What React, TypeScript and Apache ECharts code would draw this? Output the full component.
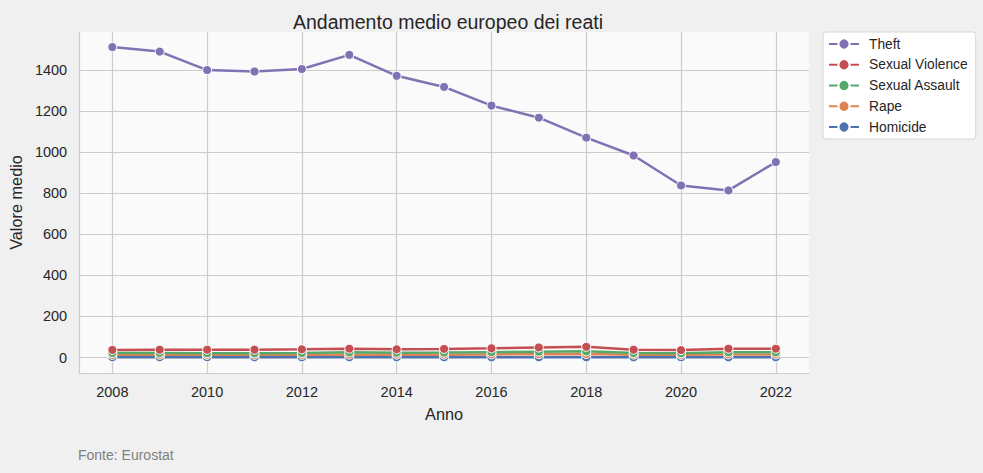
import React, { useEffect, useRef } from "react";
import * as echarts from "echarts";

const years = [2008, 2009, 2010, 2011, 2012, 2013, 2014, 2015, 2016, 2017, 2018, 2019, 2020, 2021, 2022];
const theft = [1512, 1490, 1400, 1393, 1405, 1474, 1372, 1318, 1227, 1168, 1071, 984, 838, 814, 952];
const sexualViolence = [37, 38, 38, 38, 40, 43, 40, 42, 45, 49, 52, 38, 36, 43, 43];
const sexualAssault = [22, 22, 21, 21, 22, 25, 23, 24, 26, 28, 30, 22, 21, 25, 25];
const rape = [13, 13, 13, 13, 13, 14, 14, 14, 15, 16, 17, 14, 13, 15, 15];
const homicide = [1.5, 1.5, 1.4, 1.4, 1.3, 1.3, 1.3, 1.2, 1.2, 1.2, 1.1, 1.1, 1.1, 1.1, 1.1];
const xTicks = [2008, 2010, 2012, 2014, 2016, 2018, 2020, 2022];
const yTicks = [0, 200, 400, 600, 800, 1000, 1200, 1400];

const FONT = "Liberation Sans, Arial, sans-serif";

export default function App() {
  const ref = useRef<HTMLDivElement>(null);
  useEffect(() => {
    const chart = echarts.init(ref.current!, null, { renderer: "svg" });
    const mk = (name: string, data: number[], color: string) => ({
      name,
      type: "line",
      data: years.map((y, i) => [y, data[i]]),
      symbol: "circle",
      symbolSize: 9,
      lineStyle: { width: 2.5, color },
      itemStyle: { color, borderColor: "#ffffff", borderWidth: 1 },
      emphasis: { disabled: true },
    });
    chart.setOption({
      animation: false,
      backgroundColor: "#f0f0f0",
      textStyle: { fontFamily: FONT },
      title: {
        text: "Andamento medio europeo dei reati",
        left: 443,
        top: 7,
        textAlign: "center",
        textStyle: { fontSize: 19.5, fontWeight: "normal", color: "#262626", fontFamily: FONT },
      },
      grid: { left: 78, top: 32, right: 174, bottom: 100, show: true, backgroundColor: "#fafafa", borderWidth: 0 },
      legend: {
        data: ["Theft", "Sexual Violence", "Sexual Assault", "Rape", "Homicide"],
        orient: "vertical",
        left: 823,
        top: 32,
        padding: [5, 8, 5, 5],
        itemGap: 6.75,
        itemWidth: 30,
        itemHeight: 14,
        backgroundColor: "#ffffff",
        borderColor: "#d6d6d6",
        borderWidth: 1,
        borderRadius: 3,
        textStyle: { fontSize: 13.8, color: "#262626", fontFamily: FONT, padding: [0, 0, 0, 5] },
      },
      xAxis: {
        type: "value",
        min: 2007.3,
        max: 2022.7,
        name: "Anno",
        nameLocation: "middle",
        nameGap: 33,
        nameTextStyle: { fontSize: 16.3, color: "#262626" },
        axisLine: { show: true, onZero: false, lineStyle: { color: "#cccccc", width: 1.2 } },
        axisTick: { show: false, customValues: xTicks },
        axisLabel: { customValues: xTicks, fontSize: 14.5, color: "#262626", margin: 11, formatter: (v: number) => String(v) },
        splitLine: { show: true, lineStyle: { color: "#cccccc", width: 1.2 } },
      },
      yAxis: {
        type: "value",
        min: -75.5,
        max: 1585.5,
        name: "Valore medio",
        nameLocation: "middle",
        nameGap: 55,
        nameTextStyle: { fontSize: 16.3, color: "#262626" },
        axisLine: { show: true, onZero: false, lineStyle: { color: "#cccccc", width: 1.2 } },
        axisTick: { show: false, customValues: yTicks },
        axisLabel: { customValues: yTicks, fontSize: 14.5, color: "#262626", margin: 12, formatter: (v: number) => String(v) },
        splitLine: { show: true, lineStyle: { color: "#cccccc", width: 1.2 } },
      },
      graphic: [
        {
          type: "text",
          left: 78,
          top: 448,
          style: { text: "Fonte: Eurostat", fontSize: 14, fill: "#808080", fontFamily: FONT },
        },
      ],
      series: [
        mk("Homicide", homicide, "#4C72B0"),
        mk("Rape", rape, "#DD8452"),
        mk("Sexual Assault", sexualAssault, "#55A868"),
        mk("Sexual Violence", sexualViolence, "#C44E52"),
        mk("Theft", theft, "#8172B3"),
      ],
    });
    return () => chart.dispose();
  }, []);
  return <div ref={ref} style={{ position: "fixed", left: 0, top: 0, width: 983, height: 473 }} />;
}
